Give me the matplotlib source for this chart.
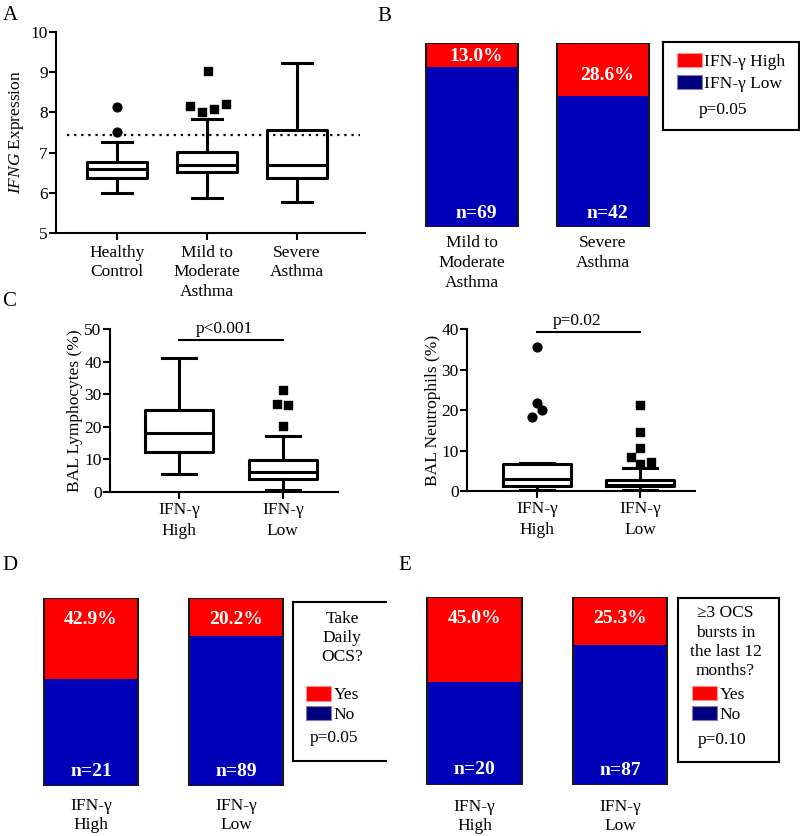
# IFN-gamma figure: box plots (A, C) and stacked proportion bars (B, D, E)
import matplotlib as mpl
mpl.use('Agg')
import numpy as np
import matplotlib.pyplot as plt
from matplotlib.patches import Patch

plt.rcParams['font.family'] = 'Liberation Serif'
plt.rcParams['mathtext.fontset'] = 'custom'
plt.rcParams['mathtext.rm'] = 'Liberation Serif'
plt.rcParams['mathtext.it'] = 'Liberation Serif:italic'

# ---- data -------------------------------------------------------------
# panel A: IFNG expression
a_groups = ['Healthy\nControl', 'Mild to\nModerate\nAsthma', 'Severe\nAsthma']
a_whislo = [6.00, 5.86, 5.76]
a_q1 = [6.36, 6.51, 6.38]
a_med = [6.59, 6.70, 6.69]
a_q3 = [6.76, 7.02, 7.56]
a_whishi = [7.27, 7.84, 9.24]
a_fliers = [[7.52, 8.13], [8.16, 8.02, 8.09, 8.20, 9.02], []]
a_cutoff = 7.45

# panel C: BAL cells by IFN-gamma group
c_groups = ['IFN-γ\nHigh', 'IFN-γ\nLow']
lym_whislo = [5.6, 0.7]
lym_q1 = [12.3, 3.9]
lym_med = [18.2, 6.2]
lym_q3 = [25.2, 9.75]
lym_whishi = [41.1, 17.1]
lym_fliers = [[], [31.3, 27.0, 26.6, 20.2]]
lym_p = 'p<0.001'

neu_whislo = [0.33, 0.17]
neu_q1 = [1.24, 1.16]
neu_med = [3.06, 1.57]
neu_q3 = [6.6, 2.64]
neu_whishi = [7.0, 5.7]
neu_fliers = [[35.5, 21.7, 20.0, 18.3], [21.2, 14.6, 10.7, 8.4, 7.1, 6.6]]
neu_p = 'p=0.02'

# panel B: IFN-gamma high share by asthma severity
b_groups = ['Mild to\nModerate\nAsthma', 'Severe\nAsthma']
b_high = [13.0, 28.6]
b_n = [69, 42]

# panel D: daily OCS
d_groups = ['IFN-γ\nHigh', 'IFN-γ\nLow']
d_yes = [42.9, 20.2]
d_n = [21, 89]

# panel E: >=3 OCS bursts
e_groups = ['IFN-γ\nHigh', 'IFN-γ\nLow']
e_yes = [45.0, 25.3]
e_n = [20, 87]

# jitter offsets for outlier symbols (layout only)
a_jit = [[0, 0], [-0.19, -0.06, 0.08, 0.21, 0.01], []]
lym_jit = [[], [0, -0.055, 0.05, 0]]
neu_jit = [[0, 0, 0.05, -0.05], [0, 0, 0, -0.09, 0.10, 0]]

RED = '#ff0000'
BLUE = '#0000b8'
NAVY = '#00007f'
FS = 12.5

W, H = 800, 836
fig = plt.figure(figsize=(W / 100, H / 100), dpi=100)


def px_axes(left, top, right, bottom):
    return fig.add_axes([left / W, 1 - bottom / H, (right - left) / W, (bottom - top) / H])


def box_panel(ax, lo, q1, med, q3, hi, fliers, jit, markers, width, xlim):
    stats = []
    for i in range(len(lo)):
        stats.append(dict(whislo=lo[i], q1=q1[i], med=med[i], q3=q3[i],
                          whishi=hi[i], fliers=[]))
    lw = 2.2
    ax.bxp(stats, positions=range(len(lo)), widths=width, capwidths=width * 0.5,
           showfliers=False,
           boxprops=dict(lw=lw, color='black'),
           whiskerprops=dict(lw=lw, color='black'),
           capprops=dict(lw=lw, color='black'),
           medianprops=dict(lw=lw, color='black'))
    for i, (vals, offs) in enumerate(zip(fliers, jit)):
        if vals:
            ax.scatter(np.array(offs) + i, vals, marker=markers[i], s=40,
                       color='black', zorder=3, clip_on=False)
    ax.set_xlim(*xlim)
    for s in ['top', 'right']:
        ax.spines[s].set_visible(False)
    for s in ['left', 'bottom']:
        ax.spines[s].set_linewidth(1.5)
    ax.tick_params(width=1.5, length=5, labelsize=FS)
    ax.tick_params(axis='y', pad=1)


# ---- panel A ----------------------------------------------------------
axA = px_axes(56, 32, 365, 233)
box_panel(axA, a_whislo, a_q1, a_med, a_q3, a_whishi, a_fliers, a_jit,
          ['o', 's', 's'], 0.67, (-0.68, 2.76))
axA.set_ylim(5, 10)
axA.set_yticks(np.arange(5, 11, 1))
axA.set_xticks(range(3))
axA.set_xticklabels(a_groups, fontsize=FS, linespacing=1.3)
axA.set_ylabel(r'$\it{IFNG}$ Expression', fontsize=FS, labelpad=3)
axA.axhline(a_cutoff, xmin=0.035, xmax=0.985, color='black', lw=1.6,
            linestyle=(0, (1, 2.2)))

# ---- panel C ----------------------------------------------------------
axC1 = px_axes(110, 329, 338, 492)
box_panel(axC1, lym_whislo, lym_q1, lym_med, lym_q3, lym_whishi, lym_fliers,
          lym_jit, ['o', 's'], 0.65, (-0.66, 1.53))
axC1.set_ylim(0, 50)
axC1.set_yticks(np.arange(0, 51, 10))
axC1.set_xticks(range(2))
axC1.set_xticklabels(c_groups, fontsize=FS, linespacing=1.4)
axC1.tick_params(axis='x', pad=2.5)
axC1.set_ylabel('BAL Lymphocytes (%)', fontsize=FS, labelpad=1)
axC1.plot([0, 1], [46.7, 46.7], color='black', lw=1.5, clip_on=False)
axC1.text(0.44, 47.6, lym_p, ha='center', va='bottom', fontsize=FS)

axC2 = px_axes(467, 329, 695, 491)
box_panel(axC2, neu_whislo, neu_q1, neu_med, neu_q3, neu_whishi, neu_fliers,
          neu_jit, ['o', 's'], 0.66, (-0.68, 1.53))
axC2.set_ylim(0, 40)
axC2.set_yticks(np.arange(0, 41, 10))
axC2.set_xticks(range(2))
axC2.set_xticklabels(c_groups, fontsize=FS, linespacing=1.4)
axC2.tick_params(axis='x', pad=2.5)
axC2.set_ylabel('BAL Neutrophils (%)', fontsize=FS, labelpad=0)
axC2.plot([0, 1], [39.3, 39.3], color='black', lw=1.5, clip_on=False)
axC2.text(0.39, 39.9, neu_p, ha='center', va='bottom', fontsize=FS)


# ---- stacked bar panels -----------------------------------------------
def bar_panel(ax, groups, top_pct, ns, width, pct_y, n_y, pad, lsp, dx=0.0):
    x = np.arange(len(groups))
    top_pct = np.array(top_pct)
    ax.bar(x, 100 - top_pct, width=width, color=BLUE, lw=0)
    ax.bar(x, top_pct, bottom=100 - top_pct, width=width, color=RED, lw=0)
    ax.bar(x, 100, width=width, fill=False, edgecolor='#1a1a1a', lw=1.5)
    for i in range(len(x)):
        ax.text(x[i] + dx, pct_y[i], f'{top_pct[i]:.1f}%', ha='center', va='center',
                color='white', fontsize=14, fontweight='bold')
        ax.text(x[i] + dx, n_y[i], f'n={ns[i]}', ha='center', va='center',
                color='white', fontsize=14, fontweight='bold')
    ax.set_xlim(-0.6, 1.6)
    ax.set_ylim(0, 100)
    ax.set_xticks(x)
    ax.set_xticklabels(groups, fontsize=FS, linespacing=lsp)
    ax.tick_params(length=0, pad=pad)
    ax.set_yticks([])
    for s in ax.spines.values():
        s.set_visible(False)


def legend_box(box, title, labels, title_xy, leg_xy, p_text, p_xy, lab_sp):
    for s in box.spines.values():
        s.set_linewidth(1.5)
        s.set_color('black')
    box.set_xticks([])
    box.set_yticks([])
    if title:
        box.text(*title_xy, title, ha='center', va='center', fontsize=FS,
                 linespacing=1.28, transform=box.transAxes)
    handles = [Patch(facecolor=RED, edgecolor='#ff9090', lw=0.8),
               Patch(facecolor=NAVY, edgecolor='#8080b0', lw=0.8)]
    box.legend(handles, labels, loc='upper left', bbox_to_anchor=leg_xy,
               frameon=False, fontsize=FS, borderpad=0, borderaxespad=0,
               handlelength=1.45, handleheight=0.9, handletextpad=0.15,
               labelspacing=lab_sp)
    box.text(*p_xy, p_text, ha='center', va='center', fontsize=FS,
             transform=box.transAxes)


# panel B
c0, s = 472, 131
axB = px_axes(c0 - 0.6 * s, 43, c0 + 1.6 * s, 227)
bar_panel(axB, b_groups, b_high, b_n, 0.70, [92.4, 82.6], [7.6, 7.6], 6, 1.3, dx=0.03)
boxB = px_axes(663, 42, 799, 130)
legend_box(boxB, None, ['IFN-γ High', 'IFN-γ Low'], None, (0.10, 0.875),
           'p=0.05', (0.44, 0.227), 0.25)

# panel D
c0, s = 91, 145
axD = px_axes(c0 - 0.6 * s, 598, c0 + 1.6 * s, 786)
bar_panel(axD, d_groups, d_yes, d_n, 0.65, [88.3, 88.3], [7.6, 7.8], 9, 1.22)
boxD = px_axes(293, 602, 394, 761)
legend_box(boxD, 'Take\nDaily\nOCS?', ['Yes', 'No'], (0.485, 0.774),
           (0.13, 0.47), 'p=0.05', (0.41, 0.145), 0.15)

# panel E
c0, s = 474.5, 145.5
axE = px_axes(c0 - 0.6 * s, 597, c0 + 1.6 * s, 785)
bar_panel(axE, e_groups, e_yes, e_n, 0.65, [88.8, 88.8], [8.5, 7.6], 10, 1.22)
boxE = px_axes(678, 598, 779, 762)
legend_box(boxE, '≥3 OCS\nbursts in\nthe last 12\nmonths?', ['Yes', 'No'],
           (0.47, 0.729), (0.14, 0.465), 'p=0.10', (0.44, 0.134), 0.15)

# panel letters
for letter, (lx, ly) in {'A': (3, 6), 'B': (377, 7), 'C': (2, 292),
                         'D': (2, 556), 'E': (398, 556)}.items():
    fig.text(lx / W, 1 - ly / H, letter, fontsize=15, va='top', ha='left')

fig.savefig('out.png', dpi=100, facecolor='w')
